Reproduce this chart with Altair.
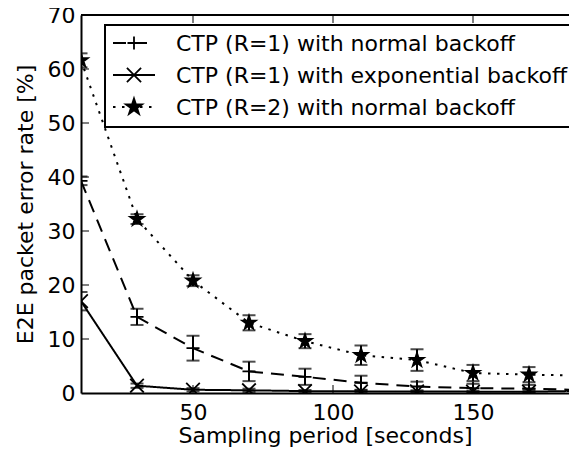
import altair as alt
import pandas as pd

# ---- data ----
periods = [10, 30, 50, 70, 90, 110, 130, 150, 170, 190]
series_names = [
    "CTP (R=1) with normal backoff",
    "CTP (R=1) with exponential backoff",
    "CTP (R=2) with normal backoff",
]
normal_r1 = [39.3, 14.1, 8.3, 4.0, 3.0, 1.9, 1.2, 0.9, 0.8, 0.55]
normal_r1_err = [0.8, 1.5, 2.3, 1.8, 1.5, 1.3, 0.9, 0.8, 0.7, 0.5]
expo_r1 = [17.0, 1.35, 0.6, 0.5, 0.35, 0.3, 0.3, 0.25, 0.25, 0.4]
expo_r1_err = [1.7, 0.4, 0.3, 0.3, 0.2, 0.2, 0.2, 0.2, 0.2, 0.2]
normal_r2 = [61.6, 32.2, 20.8, 13.0, 9.6, 7.0, 6.1, 3.7, 3.4, 3.2]
normal_r2_err = [1.3, 0.9, 1.0, 1.4, 1.3, 1.8, 2.0, 1.5, 1.4, 1.0]

y_ticks = [0, 10, 20, 30, 40, 50, 60, 70]
x_ticks = [50, 100, 150]

# ---- styles ----
FONT = "DejaVu Sans"
FS = 22
W, H = 488, 378
PLUS = "M-1,0L1,0M0,-1L0,1"
CROSS = "M-1,-1L1,1M-1,1L1,-1"
STAR = ("M0,-1L0.225,-0.309L0.951,-0.309L0.363,0.118L0.588,0.809L0,0.382"
        "L-0.588,0.809L-0.363,0.118L-0.951,-0.309L-0.225,-0.309Z")
shapes = [PLUS, CROSS, STAR]
sizes = [170, 200, 290]
dashes = [[13, 8], [1, 0], [2.5, 6.5]]

rows = []
for name, vals, errs in zip(series_names,
                            [normal_r1, expo_r1, normal_r2],
                            [normal_r1_err, expo_r1_err, normal_r2_err]):
    for p, v, e in zip(periods, vals, errs):
        rows.append({"series": name, "x": p, "y": v, "lo": v - e, "hi": v + e})
df = pd.DataFrame(rows)

xs = alt.Scale(domain=[10, 10 + W / 2.8], nice=False, zero=False)
ys = alt.Scale(domain=[0, 70], nice=False)

X = alt.X("x:Q", scale=xs, title="Sampling period [seconds]",
          axis=alt.Axis(values=x_ticks, tickSize=0, labelPadding=9, grid=False,
                        domainColor="black", domainWidth=2, labelFontSize=FS,
                        titleFontSize=FS, titleFontWeight="normal", titlePadding=2,
                        labelFont=FONT, titleFont=FONT, labelColor="black",
                        titleColor="black"))
Y = alt.Y("y:Q", scale=ys, title="E2E packet error rate [%]",
          axis=alt.Axis(values=y_ticks, tickSize=0, labelPadding=6, grid=False,
                        domainColor="black", domainWidth=2, labelFontSize=FS,
                        titleFontSize=FS, titleFontWeight="normal", titlePadding=10,
                        labelFont=FONT, titleFont=FONT, labelColor="black",
                        titleColor="black"))

base = alt.Chart(df)

lines = base.mark_line(clip=True, color="black", strokeWidth=2).encode(
    x=X, y=Y,
    strokeDash=alt.StrokeDash("series:N", scale=alt.Scale(domain=series_names, range=dashes), legend=None),
    detail="series:N",
)
err_rule = base.mark_rule(clip=True, color="black", strokeWidth=2).encode(
    x=alt.X("x:Q", scale=xs), y=alt.Y("lo:Q", scale=ys), y2="hi:Q")
cap_lo = base.mark_tick(clip=True, color="black", thickness=2, size=13, orient="horizontal").encode(
    x=alt.X("x:Q", scale=xs), y=alt.Y("lo:Q", scale=ys))
cap_hi = base.mark_tick(clip=True, color="black", thickness=2, size=13, orient="horizontal").encode(
    x=alt.X("x:Q", scale=xs), y=alt.Y("hi:Q", scale=ys))
points = base.mark_point(clip=True, filled=True, fill="black", stroke="black",
                         strokeWidth=1.8, opacity=1).encode(
    x=alt.X("x:Q", scale=xs), y=alt.Y("y:Q", scale=ys),
    shape=alt.Shape("series:N", scale=alt.Scale(domain=series_names, range=shapes), legend=None),
    size=alt.Size("series:N", scale=alt.Scale(domain=series_names, range=sizes), legend=None),
)

# top spine (the right one lies outside the cropped reference)
top_spine = alt.Chart(pd.DataFrame({"a": [0]})).mark_rule(color="black", strokeWidth=2).encode(
    x=alt.value(0), x2=alt.value(W), y=alt.value(0))

# inward ticks
ytick_df = pd.DataFrame({"v": y_ticks[1:-1]})
xtick_df = pd.DataFrame({"v": x_ticks})
ytk = alt.Chart(ytick_df).mark_rule(color="black", strokeWidth=1).encode(
    y=alt.Y("v:Q", scale=ys), x=alt.value(0), x2=alt.value(8))
xtk_b = alt.Chart(xtick_df).mark_rule(color="black", strokeWidth=1).encode(
    x=alt.X("v:Q", scale=xs), y=alt.value(H), y2=alt.value(H - 8))
xtk_t = alt.Chart(xtick_df).mark_rule(color="black", strokeWidth=1).encode(
    x=alt.X("v:Q", scale=xs), y=alt.value(0), y2=alt.value(8))

# legend (drawn by hand, matplotlib style)
leg_layers = [
    alt.Chart(pd.DataFrame({"a": [0]})).mark_rect(fill="white", stroke="black", strokeWidth=2).encode(
        x=alt.value(24), x2=alt.value(493), y=alt.value(10), y2=alt.value(112))
]
row_y = [28, 60, 92]
for name, shp, sz, dsh, ry in zip(series_names, shapes, sizes, dashes, row_y):
    d = pd.DataFrame({"label": [name]})
    leg_layers.append(alt.Chart(d).mark_rule(color="black", strokeWidth=2, strokeDash=dsh).encode(
        x=alt.value(32), x2=alt.value(74), y=alt.value(ry)))
    leg_layers.append(alt.Chart(d).mark_point(filled=True, fill="black", stroke="black",
                                              strokeWidth=1.8, opacity=1, shape=shp, size=sz).encode(
        x=alt.value(53), y=alt.value(ry)))
    leg_layers.append(alt.Chart(d).mark_text(align="left", baseline="middle", font=FONT,
                                             fontSize=FS, color="black").encode(
        x=alt.value(95), y=alt.value(ry + 1), text="label:N"))

chart = alt.layer(lines, err_rule, cap_lo, cap_hi, points, top_spine, ytk, xtk_b, xtk_t,
                  *leg_layers).properties(
    width=W, height=H,
    autosize=alt.AutoSizeParams(type="none"),
    padding={"left": 73, "top": 7, "right": 0, "bottom": 58},
).configure_view(stroke=None).configure(background="white")

chart.save("out.html", embed_options={"renderer": "svg", "actions": False})
